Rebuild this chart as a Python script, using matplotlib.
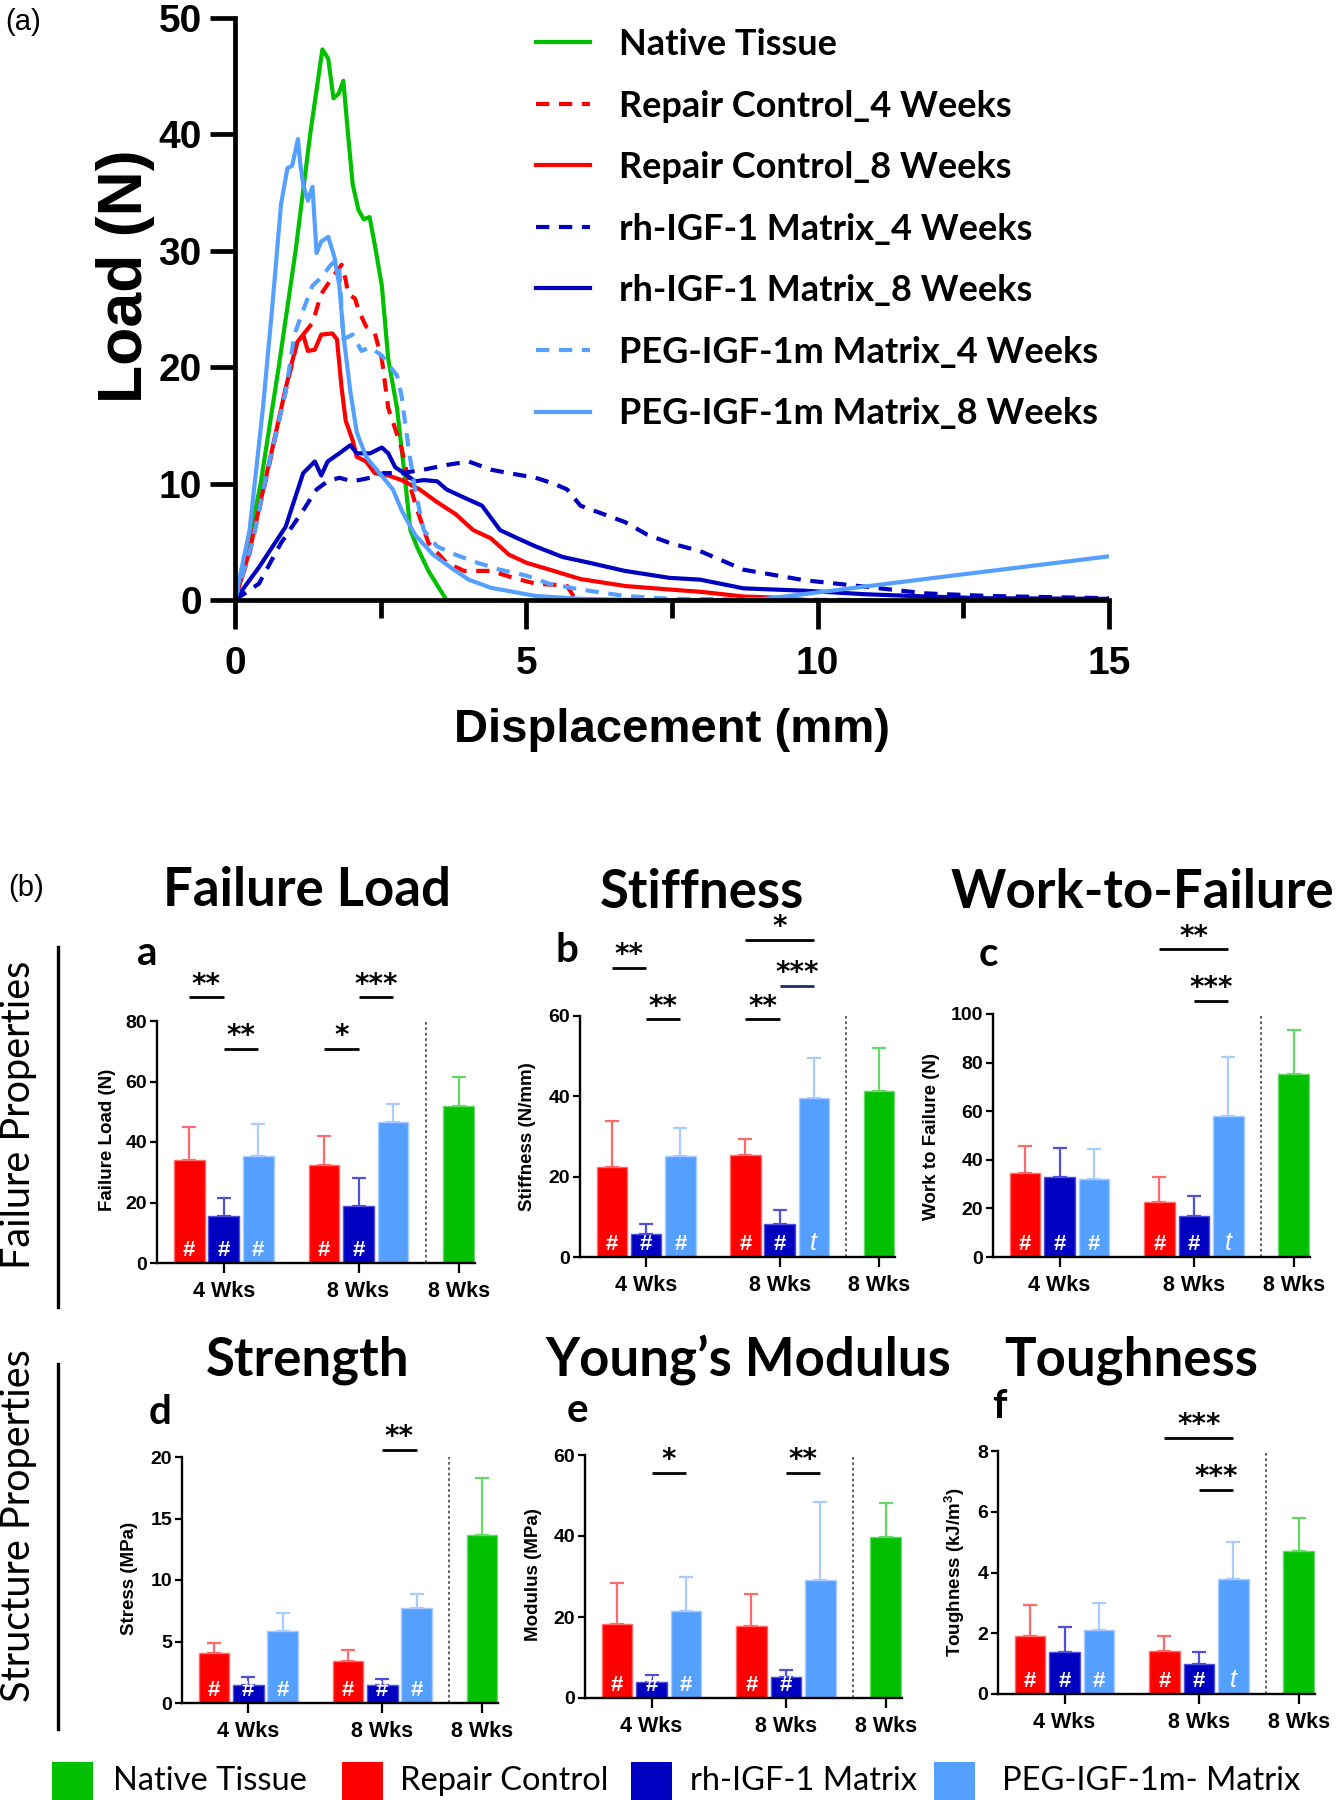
import matplotlib.pyplot as plt
from matplotlib.patches import Rectangle
from matplotlib.lines import Line2D
from matplotlib.font_manager import FontProperties

plt.rcParams['font.family'] = ['Liberation Sans', 'DejaVu Sans']
plt.rcParams['mathtext.default'] = 'regular'

W, H = 1336, 1800

GREEN = '#00C000'
RED = '#FF0000'
BLUE = '#0000C0'
LBLUE = '#55A0FF'

# ---------- (a) load - displacement curves ----------
native_x = [0, 0.2, 0.44, 0.75, 1.04, 1.29, 1.50, 1.60, 1.69, 1.78, 1.86, 1.94, 2.02, 2.12, 2.21,
            2.31, 2.40, 2.52, 2.63, 2.78, 2.90, 3.01, 3.13, 3.32, 3.48, 3.63]
native_y = [0, 4, 10, 20, 30, 40, 47.3, 46.5, 43.1, 43.5, 44.6, 40, 35.7, 33.5, 32.7,
            32.9, 30.5, 27, 20.7, 16.5, 11.2, 6, 4.5, 2.5, 1.2, 0]

rc4_x = [0, 0.25, 0.56, 0.87, 1.06, 1.17, 1.33, 1.48, 1.67, 1.83, 1.90, 1.94, 2.06, 2.12, 2.25,
         2.40, 2.52, 2.63, 2.75, 2.86, 2.98, 3.13, 3.32, 3.63, 3.93, 4.39, 4.78, 5.16, 5.50, 5.70, 5.85]
rc4_y = [0, 4, 11, 18, 22, 22.8, 23.8, 26.3, 27.7, 28.8, 27.5, 26.3, 25.9, 24.9, 23.5,
         22.9, 20.7, 16.5, 14.7, 13, 10.2, 7.7, 4.9, 3.2, 2.5, 2.5, 1.9, 1.4, 1.3, 1.2, 0]

rc8_x = [0, 0.25, 0.56, 0.87, 1.06, 1.17, 1.25, 1.37, 1.48, 1.67, 1.75, 1.83, 1.90, 2.02, 2.09,
         2.25, 2.40, 2.63, 2.86, 3.17, 3.47, 3.78, 4.09, 4.39, 4.70, 5.0, 5.47, 5.93, 6.7, 7.46,
         8.0, 8.73, 9.3, 9.77]
rc8_y = [0, 4.2, 11.2, 18.2, 22.1, 22.8, 21.4, 21.5, 22.8, 22.9, 22.4, 18.2, 15.4, 13.7, 12.3,
         11.9, 10.9, 10.7, 10.3, 9.5, 8.4, 7.4, 6.0, 5.3, 3.9, 3.2, 2.5, 1.8, 1.2, 0.9,
         0.7, 0.3, 0.2, 0]

rh4_x = [0, 0.41, 0.79, 1.17, 1.40, 1.59, 1.79, 2.02, 2.32, 2.55, 2.86, 3.24, 3.63, 4.01, 4.39,
         4.70, 5.16, 5.47, 5.70, 5.93, 6.31, 6.69, 7.08, 7.46, 7.98, 8.73, 9.77, 10.8, 11.85, 12.9, 15]
rh4_y = [0, 1.4, 4.9, 7.7, 9.5, 10.2, 10.5, 10.2, 10.5, 10.9, 10.9, 11.2, 11.6, 11.9, 11.2,
         10.9, 10.5, 10.0, 9.5, 8.1, 7.4, 6.7, 5.6, 4.9, 4.2, 2.6, 1.7, 1.15, 0.57, 0.35, 0.15]

rh8_x = [0, 0.41, 0.87, 1.17, 1.37, 1.48, 1.59, 1.79, 1.98, 2.09, 2.32, 2.52, 2.63, 2.75, 2.90,
         3.09, 3.24, 3.47, 3.63, 3.93, 4.24, 4.55, 4.85, 5.16, 5.62, 6.08, 6.69, 7.46, 7.98, 8.73,
         9.77, 10.8, 11.85, 12.9, 15]
rh8_y = [0, 2.8, 6.3, 10.9, 11.9, 10.7, 11.9, 12.6, 13.3, 12.6, 12.6, 13.1, 12.6, 11.4, 10.9,
         10.2, 10.3, 10.2, 9.5, 8.8, 8.1, 6.0, 5.3, 4.6, 3.7, 3.2, 2.5, 1.9, 1.75, 1.0,
         0.8, 0.5, 0.3, 0.15, 0.1]

peg4_x = [0, 0.3, 0.56, 0.87, 1.02, 1.17, 1.33, 1.48, 1.63, 1.71, 1.79, 1.86, 2.02, 2.17, 2.32,
          2.52, 2.67, 2.78, 2.86, 2.98, 3.09, 3.24, 3.47, 3.78, 4.16, 4.55, 5.0, 5.39, 5.93, 6.69,
          7.46, 9.0, 11.0]
peg4_y = [0, 5, 11.2, 17.9, 22.8, 24.9, 27, 27.7, 28.7, 29.1, 28.4, 22.4, 22.8, 21.4, 21.7,
          21, 20, 19.3, 17.5, 13, 9.5, 6, 4.6, 3.9, 3.2, 2.6, 2.1, 1.4, 0.9, 0.35,
          0.1, 0.05, 0]

peg8_x = [0, 0.25, 0.48, 0.64, 0.79, 0.90, 0.98, 1.08, 1.12, 1.17, 1.25, 1.33, 1.40, 1.48, 1.60,
          1.71, 1.79, 1.86, 1.98, 2.09, 2.25, 2.48, 2.71, 2.86, 3.09, 3.40, 3.70, 4.01, 4.39, 5.16,
          5.93, 7.0, 8.94, 10.0, 12.0, 15.0]
peg8_y = [0, 6, 16.5, 25.2, 34, 37.1, 37.3, 39.6, 37.5, 35.7, 34.3, 35.5, 29.8, 30.8, 31.2,
          29.4, 27, 22.8, 17.9, 14.4, 12.3, 10.9, 9.5, 7.7, 5.6, 3.9, 2.8, 1.75, 1.05, 0.35,
          0.1, 0.0, 0.0, 0.65, 1.9, 3.75]

# ---------- (b) bar panels: order = RC 4w, rh 4w, PEG 4w, RC 8w, rh 8w, PEG 8w, native ----------
failure_load = [34, 15.5, 35.5, 32.5, 19, 46.5, 52]
failure_load_sd = [11, 6, 10.5, 9.5, 9, 6, 9.5]
stiffness = [22.5, 5.8, 25.2, 25.3, 8.3, 39.7, 41.4]
stiffness_sd = [11.4, 2.5, 6.9, 4.2, 3.3, 9.9, 10.7]
work = [34.6, 33, 32.3, 22.7, 16.9, 58, 75.5]
work_sd = [11, 11.8, 12.1, 10.3, 8.1, 24.3, 17.9]
stress = [4.07, 1.48, 5.85, 3.38, 1.48, 7.69, 13.68]
stress_sd = [0.77, 0.61, 1.49, 0.91, 0.44, 1.18, 4.59]
modulus = [18.2, 4.0, 21.5, 17.7, 5.2, 29.1, 39.7]
modulus_sd = [10.3, 1.6, 8.3, 7.9, 1.6, 19.4, 8.5]
toughness = [1.92, 1.37, 2.10, 1.42, 0.98, 3.77, 4.70]
toughness_sd = [1.01, 0.84, 0.90, 0.49, 0.41, 1.24, 1.08]

group_labels = ['4 Wks', '8 Wks', '8 Wks']


def box(l, t, r, b):
    return [l / W, 1 - b / H, (r - l) / W, (b - t) / H]


def at(x, y):
    return x / W, 1 - y / H


fig = plt.figure(figsize=(W / 100, H / 100), dpi=100)

# ===== top panel =====
ax = fig.add_axes(box(235, 18, 1109, 600))
curves = [
    (native_x, native_y, GREEN, '-', 'Native Tissue'),
    (rc4_x, rc4_y, RED, (0, (3.2, 2.3)), 'Repair Control_4 Weeks'),
    (rc8_x, rc8_y, RED, '-', 'Repair Control_8 Weeks'),
    (rh4_x, rh4_y, BLUE, (0, (3.2, 2.3)), 'rh-IGF-1 Matrix_4 Weeks'),
    (rh8_x, rh8_y, BLUE, '-', 'rh-IGF-1 Matrix_8 Weeks'),
    (peg4_x, peg4_y, LBLUE, (0, (3.2, 2.3)), 'PEG-IGF-1m Matrix_4 Weeks'),
    (peg8_x, peg8_y, LBLUE, '-', 'PEG-IGF-1m Matrix_8 Weeks'),
]
for x, y, c, ls, lab in curves:
    ax.plot(x, y, color=c, ls=ls, lw=3, label=lab)

ax.set_xlim(0, 15)
ax.set_ylim(0, 50)
ax.set_xticks([0, 5, 10, 15])
ax.set_xticks([2.5, 7.5, 12.5], minor=True)
ax.set_yticks(range(0, 51, 10))
for s in ['top', 'right']:
    ax.spines[s].set_visible(False)
for s in ['left', 'bottom']:
    ax.spines[s].set_linewidth(3.4)
ax.tick_params(axis='both', width=3.4, labelsize=28)
ax.tick_params(axis='y', length=18, pad=6)
ax.tick_params(axis='x', which='major', length=21, pad=12)
ax.tick_params(axis='x', which='minor', length=13, width=3.4)
for t in ax.get_xticklabels() + ax.get_yticklabels():
    t.set_fontweight('bold')

fig.text(*at(672, 730), 'Displacement (mm)', fontsize=34, fontweight='bold', ha='center', va='center')
fig.text(*at(126, 276), 'Load (N)', fontsize=45, fontweight='bold', ha='center', va='center', rotation=90)

ax.legend(loc='upper left', bbox_to_anchor=at(536, 28), bbox_transform=fig.transFigure,
          frameon=False, prop=FontProperties(family='Lato', weight='bold', size=26),
          handlelength=1.5, handletextpad=0.8, labelspacing=0.79, borderpad=0, borderaxespad=0)

fig.text(*at(23, 22), '(a)', fontsize=21, ha='center', va='center')
fig.text(*at(26, 888), '(b)', fontsize=21, ha='center', va='center')

# ===== bar panels =====
positions = [-1, 0, 1, 2.9, 3.9, 4.9, 6.8]
bar_colors = [RED, BLUE, LBLUE, RED, BLUE, LBLUE, GREEN]
err_colors = ['#FF6A6A', '#5050DD', '#A8CCFF', '#FF6A6A', '#5050DD', '#A8CCFF', '#66D866']


def bar_panel(rect, means, sds, ymax, ystep, marks, sig):
    a = fig.add_axes(box(*rect))
    a.bar(positions, means, width=0.89, color=bar_colors, edgecolor=err_colors, linewidth=1, zorder=2)
    for p, m, s, ec in zip(positions, means, sds, err_colors):
        a.errorbar(p, m, yerr=[[0], [s]], fmt='none', ecolor=ec, elinewidth=1.6,
                   capsize=4.8, capthick=1.6, zorder=1)
    a.axvline(5.85, color='#555555', ls=(0, (1.5, 1.5)), lw=1.3)
    a.set_xlim(-1.93, 7.27)
    a.set_ylim(0, ymax)
    a.set_yticks([ystep * i for i in range(int(round(ymax / ystep)) + 1)])
    a.set_xticks([positions[1], positions[4], positions[6]])
    a.set_xticklabels(group_labels)
    for s in ['top', 'right']:
        a.spines[s].set_visible(False)
    for s in ['left', 'bottom']:
        a.spines[s].set_linewidth(1.7)
    a.tick_params(axis='y', length=5, width=1.6, labelsize=14, pad=2)
    a.tick_params(axis='x', length=7, width=1.6, labelsize=15.5, pad=6)
    for t in a.get_xticklabels() + a.get_yticklabels():
        t.set_fontweight('bold')
    for p, mk in zip(positions, marks):
        if mk == '#':
            a.annotate(mk, (p, 0), xytext=(0, 9), textcoords='offset points', ha='center',
                       va='center', color='white', fontsize=16, fontweight='bold')
        elif mk:
            a.annotate(mk, (p, 0), xytext=(0, 10), textcoords='offset points', ha='center',
                       va='center', color='white', fontsize=18, style='italic')
    for i, j, y, txt, c in sig:
        a.plot([positions[i], positions[j]], [y, y], color=c, lw=2, clip_on=False,
               solid_capstyle='butt')
        a.annotate(txt, ((positions[i] + positions[j]) / 2, y), xytext=(0, 9),
                   textcoords='offset points', ha='center', va='center', fontsize=20,
                   fontweight='bold', family='DejaVu Sans', annotation_clip=False)
    return a


K = 'black'
bar_panel((157, 1021, 475, 1263), failure_load, failure_load_sd, 80, 20,
          ['#', '#', '#', '#', '#', '', ''],
          [(0, 1, 87.9, '**', K), (1, 2, 70.9, '**', K), (3, 4, 70.9, '*', K), (4, 5, 87.9, '***', K)])
bar_panel((580, 1016, 895, 1257), stiffness, stiffness_sd, 60, 20,
          ['#', '#', '#', '#', '#', 't', ''],
          [(0, 1, 72, '**', K), (1, 2, 59.2, '**', K), (3, 4, 59.2, '**', K),
           (4, 5, 67.5, '***', '#1F2A6B'), (3, 5, 79, '*', K)])
bar_panel((993, 1014, 1310, 1257), work, work_sd, 100, 20,
          ['#', '#', '#', '#', '#', 't', ''],
          [(3, 5, 126.6, '**', K), (4, 5, 105.4, '***', K)])
bar_panel((182, 1457, 498, 1703), stress, stress_sd, 20, 5,
          ['#', '#', '#', '#', '#', '#', ''],
          [(4, 5, 20.6, '**', K)])
bar_panel((585, 1455, 902, 1698), modulus, modulus_sd, 60, 20,
          ['#', '#', '#', '#', '#', '', ''],
          [(1, 2, 55.6, '*', K), (4, 5, 55.6, '**', K)])
bar_panel((998, 1451, 1315, 1694), toughness, toughness_sd, 8, 2,
          ['#', '#', '#', '#', '#', 't', ''],
          [(3, 5, 8.43, '***', K), (4, 5, 6.73, '***', K)])

# y labels
ylabels = [('Failure Load (N)', 107, 1140), ('Stiffness (N/mm)', 528, 1137),
           ('Work to Failure (N)', 932, 1136), ('Stress (MPa)', 130, 1578),
           ('Modulus (MPa)', 533, 1575), ('Toughness (kJ/m$^3$)', 955, 1572)]
for txt, x, y in ylabels:
    fig.text(*at(x, y), txt, rotation=90, fontsize=13.5, fontweight='bold', ha='center', va='center')

# titles and panel letters
titles = [('Failure Load', 307, 891), ('Stiffness', 702, 892), ('Work-to-Failure', 1142, 892),
          ('Strength', 308, 1360), ('Young\u2019s Modulus', 748, 1360), ('Toughness', 1131, 1360)]
for txt, x, y in titles:
    fig.text(*at(x, y), txt, family='Lato', fontweight='bold', fontsize=38, ha='center', va='center')

letters = [('a', 147, 953), ('b', 567, 950), ('c', 988, 954),
           ('d', 160, 1412), ('e', 577, 1411), ('f', 999, 1407)]
for txt, x, y in letters:
    fig.text(*at(x, y), txt, family='Lato', fontweight='bold', fontsize=29, ha='center', va='center')

# row labels with separator lines
fig.text(*at(19, 1115), 'Failure Properties', family='Lato', fontsize=28.5, rotation=90,
         ha='center', va='center')
fig.text(*at(19, 1526), 'Structure Properties', family='Lato', fontsize=28.5, rotation=90,
         ha='center', va='center')
fig.add_artist(Line2D([58 / W, 58 / W], [1 - 947 / H, 1 - 1307 / H], color='k', lw=2.4))
fig.add_artist(Line2D([58 / W, 58 / W], [1 - 1364 / H, 1 - 1729 / H], color='k', lw=2.4))

# bottom legend
legend_items = [('Native Tissue', GREEN, 52, 113), ('Repair Control', RED, 342, 400),
                ('rh-IGF-1 Matrix', BLUE, 631, 690), ('PEG-IGF-1m- Matrix', LBLUE, 934, 1002)]
for txt, c, sx, tx in legend_items:
    fig.add_artist(Rectangle(at(sx, 1803), 41 / W, 41 / H, transform=fig.transFigure,
                             facecolor=c, edgecolor='none'))
    fig.text(*at(tx, 1781), txt, family='Lato', fontsize=23.5, ha='left', va='center')

fig.savefig('out.png', dpi=100)
